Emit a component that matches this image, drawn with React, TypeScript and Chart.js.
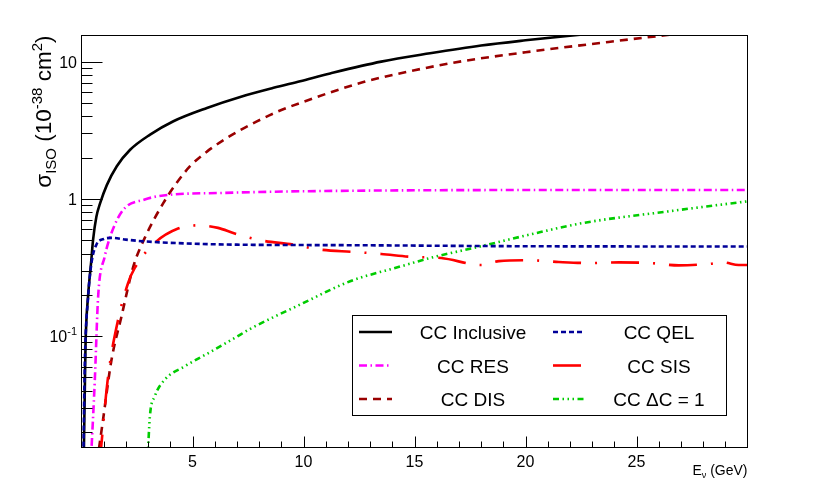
import { useEffect, useRef } from 'react';
import { Chart, registerables } from 'chart.js';

Chart.register(...registerables);

const FONT = "'Liberation Sans', Arial, sans-serif";

// axis ranges (E in GeV, sigma in 1e-38 cm^2)
const xMin = 0;
const xMax = 30;
const yMin = 0.01545;
const yMax = 15.5;

const xMajorTicks = [5, 10, 15, 20, 25];
const xMinorTicks = [1, 2, 3, 4, 6, 7, 8, 9, 11, 12, 13, 14, 16, 17, 18, 19, 21, 22, 23, 24, 26, 27, 28, 29];
const yMajorTicks = [0.1, 1, 10];
const yMinorTicks = [
	0.02, 0.03, 0.04, 0.05, 0.06, 0.07, 0.08, 0.09,
	0.2, 0.3, 0.4, 0.5, 0.6, 0.7, 0.8, 0.9,
	2, 3, 4, 5, 6, 7, 8, 9,
];
const yTickLabels = [
	{ value: 10, base: '10', exp: '' },
	{ value: 1, base: '1', exp: '' },
	{ value: 0.1, base: '10', exp: '-1' },
];

// [E, sigma]
const ccInclusive = [
	[0.1, 0.012], [0.18, 0.084], [0.3, 0.2], [0.43, 0.34], [0.52, 0.5], [0.67, 0.74], [0.84, 0.93],
	[1.14, 1.26], [1.59, 1.73], [2.19, 2.28], [3.09, 2.94], [4.14, 3.68], [5.65, 4.6], [7.15, 5.53],
	[8.65, 6.44], [9.85, 7.2], [11.2, 8.2], [13.5, 10.0], [15.7, 11.5], [18, 13.1], [20, 14.3],
	[22, 15.45], [24, 16.6],
];
const ccQEL = [
	[0.08, 0.012], [0.15, 0.064], [0.3, 0.195], [0.45, 0.342], [0.67, 0.464], [1, 0.51], [1.35, 0.52],
	[2, 0.505], [2.85, 0.49], [5, 0.472], [7, 0.464], [12, 0.46], [20, 0.452], [30, 0.45],
];
const ccRES = [
	[0.42, 0.012], [0.6, 0.048], [0.75, 0.195], [1.05, 0.382], [1.35, 0.565], [1.89, 0.836], [2.85, 0.99],
	[3.69, 1.06], [6.4, 1.106], [9.85, 1.136], [20, 1.16], [30, 1.16],
];
const ccSIS = [
	[0.82, 0.012], [1.2, 0.051], [1.65, 0.132], [2.1, 0.244], [2.4, 0.314], [3.3, 0.478], [4.35, 0.608],
	[5.25, 0.642], [6.15, 0.615], [6.9, 0.56], [8.05, 0.5], [9.55, 0.464], [10.75, 0.427], [12.25, 0.411],
	[13.5, 0.397], [14.9, 0.378], [16.2, 0.371], [18, 0.33], [18.8, 0.352], [20.2, 0.357], [21.5, 0.347],
	[22.9, 0.341], [24.2, 0.345], [25.6, 0.341], [26.9, 0.328], [28.3, 0.336], [28.9, 0.345], [29.6, 0.33],
	[30, 0.33],
];
const ccDIS = [
	[0.7, 0.012], [0.97, 0.0246], [1.35, 0.067], [1.8, 0.139], [2.33, 0.32], [2.85, 0.52], [3.69, 0.935],
	[4.29, 1.31], [4.89, 1.73], [5.65, 2.21], [6.7, 2.88], [7.9, 3.67], [8.8, 4.3], [9.85, 5.0],
	[12.7, 7.1], [15, 8.65], [17.2, 10.1], [20, 11.7], [23.4, 13.7], [26.2, 15.5], [28, 16.6],
];
const ccDeltaC = [
	[2.97, 0.012], [3.08, 0.026], [3.3, 0.0364], [3.75, 0.0482], [4.65, 0.0603], [5.85, 0.0775], [6.9, 0.097],
	[7.6, 0.113], [9.85, 0.17], [12.1, 0.251], [14.4, 0.323], [15.7, 0.371], [18, 0.452], [20.2, 0.55],
	[22.6, 0.668], [26.4, 0.81], [30, 0.96],
];

const legendRows = [
	['CC Inclusive', 'CC QEL'],
	['CC RES', 'CC SIS'],
	['CC DIS', 'CC \u0394C = 1'],
];

type Part = { t: string; size: number; dy: number };

function drawRich(ctx: CanvasRenderingContext2D, parts: Part[], x: number, y: number, align: string) {
	let w = 0;
	for (const p of parts) {
		ctx.font = `${p.size}px ${FONT}`;
		w += ctx.measureText(p.t).width;
	}
	let cx = align === 'left' ? x : align === 'right' ? x - w : x - w / 2;
	ctx.textAlign = 'left';
	ctx.textBaseline = 'alphabetic';
	for (const p of parts) {
		ctx.font = `${p.size}px ${FONT}`;
		ctx.fillText(p.t, cx, y + p.dy);
		cx += ctx.measureText(p.t).width;
	}
}

const rootStyle = {
	id: 'rootStyle',
	afterDatasetsDraw(chart: any) {
		const { ctx, chartArea: a, scales } = chart;
		const xs = scales.x;
		const ys = scales.y;
		ctx.save();

		// legend box
		const lx0 = 352.5, lx1 = 726.5, ly0 = 315.5, ly1 = 415.5;
		ctx.fillStyle = '#fff';
		ctx.fillRect(lx0, ly0, lx1 - lx0, ly1 - ly0);
		ctx.strokeStyle = '#000';
		ctx.lineWidth = 1;
		ctx.setLineDash([]);
		ctx.strokeRect(lx0, ly0, lx1 - lx0, ly1 - ly0);
		const rowY = [332, 365.5, 399];
		const cols = [
			{ s0: 359, s1: 392, tx: 473 },
			{ s0: 553, s1: 585, tx: 659 },
		];
		legendRows.forEach((row, r) => {
			row.forEach((label, c) => {
				const ds = chart.data.datasets.find((d: any) => d.label === label);
				const col = cols[c];
				ctx.beginPath();
				ctx.strokeStyle = ds.borderColor;
				ctx.lineWidth = ds.borderWidth;
				ctx.setLineDash(ds.borderDash || []);
				ctx.moveTo(col.s0, rowY[r]);
				ctx.lineTo(col.s1, rowY[r]);
				ctx.stroke();
				ctx.fillStyle = '#000';
				drawRich(ctx, [{ t: label, size: 19, dy: 0 }], col.tx, rowY[r] + 7, 'center');
			});
		});
		ctx.setLineDash([]);

		// frame
		ctx.strokeStyle = '#000';
		ctx.lineWidth = 1;
		ctx.strokeRect(a.left, a.top, a.right - a.left, a.bottom - a.top);

		// ticks, drawn inward like ROOT
		ctx.beginPath();
		for (const v of xMajorTicks) {
			const px = Math.round(xs.getPixelForValue(v)) + 0.5;
			ctx.moveTo(px, a.bottom);
			ctx.lineTo(px, a.bottom - 11);
		}
		for (const v of xMinorTicks) {
			const px = Math.round(xs.getPixelForValue(v)) + 0.5;
			ctx.moveTo(px, a.bottom);
			ctx.lineTo(px, a.bottom - 6);
		}
		for (const v of yMajorTicks) {
			const py = Math.round(ys.getPixelForValue(v)) + 0.5;
			ctx.moveTo(a.left, py);
			ctx.lineTo(a.left + 21, py);
		}
		for (const v of yMinorTicks) {
			const py = Math.round(ys.getPixelForValue(v)) + 0.5;
			ctx.moveTo(a.left, py);
			ctx.lineTo(a.left + 11, py);
		}
		ctx.stroke();

		// tick labels
		ctx.fillStyle = '#000';
		for (const v of xMajorTicks) {
			drawRich(ctx, [{ t: String(v), size: 16, dy: 0 }], xs.getPixelForValue(v), 467, 'center');
		}
		for (const l of yTickLabels) {
			const py = ys.getPixelForValue(l.value);
			const parts: Part[] = [{ t: l.base, size: 16, dy: 0 }];
			if (l.exp) parts.push({ t: l.exp, size: 11, dy: -7 });
			drawRich(ctx, parts, 77, py + 6, 'right');
		}

		// x title
		drawRich(
			ctx,
			[
				{ t: 'E', size: 14, dy: 0 },
				{ t: '\u03bd', size: 9, dy: 3 },
				{ t: ' (GeV)', size: 14, dy: 0 },
			],
			a.right,
			475,
			'right'
		);

		// y title, rotated
		ctx.save();
		ctx.translate(51, a.top);
		ctx.rotate(-Math.PI / 2);
		drawRich(
			ctx,
			[
				{ t: '\u03c3', size: 22.5, dy: 0 },
				{ t: 'ISO', size: 15, dy: 5 },
				{ t: ' (10', size: 22.5, dy: 0 },
				{ t: '-38', size: 15, dy: -9 },
				{ t: ' cm', size: 22.5, dy: 0 },
				{ t: '2', size: 15, dy: -9 },
				{ t: ')', size: 22.5, dy: 0 },
			],
			0,
			0,
			'right'
		);
		ctx.restore();

		ctx.restore();
	},
};

const toPoints = (rows: number[][]) => rows.map(([x, y]) => ({ x, y }));

export default function App() {
	const canvasRef = useRef<HTMLCanvasElement | null>(null);
	const chartRef = useRef<Chart | null>(null);

	useEffect(() => {
		if (!canvasRef.current) return;
		if (chartRef.current) chartRef.current.destroy();

		const line = (label: string, rows: number[][], color: string, dash: number[], order: number) => ({
			label,
			data: toPoints(rows),
			borderColor: color,
			backgroundColor: color,
			borderWidth: 2.6,
			borderDash: dash,
			pointRadius: 0,
			fill: false,
			cubicInterpolationMode: 'monotone' as const,
			order,
		});

		chartRef.current = new Chart(canvasRef.current, {
			type: 'line',
			data: {
				datasets: [
					line('CC Inclusive', ccInclusive, '#000000', [], 6),
					line('CC QEL', ccQEL, '#000099', [5, 3], 1),
					line('CC RES', ccRES, '#ff00ff', [8, 3.5, 1.5, 3.5], 3),
					line('CC SIS', ccSIS, '#ff0000', [28, 14, 2, 14], 2),
					line('CC DIS', ccDIS, '#990000', [8, 6], 4),
					line('CC \u0394C = 1', ccDeltaC, '#00cc00', [6, 3.5, 1.5, 3.5, 1.5, 3.5, 1.5, 3.5], 5),
				],
			},
			options: {
				responsive: true,
				maintainAspectRatio: false,
				animation: false,
				layout: {
					padding: { left: 81.5, right: 82.5, top: 35.5, bottom: 50.5 },
				},
				scales: {
					x: { type: 'linear', min: xMin, max: xMax, display: false },
					y: { type: 'logarithmic', min: yMin, max: yMax, display: false },
				},
				plugins: {
					legend: { display: false },
					tooltip: { enabled: false },
				},
			},
			plugins: [rootStyle],
		});

		return () => {
			if (chartRef.current) {
				chartRef.current.destroy();
				chartRef.current = null;
			}
		};
	}, []);

	return (
		<div style={{ position: 'fixed', left: 0, top: 0, width: 830, height: 498, background: '#fff' }}>
			<canvas ref={canvasRef}></canvas>
		</div>
	);
}
